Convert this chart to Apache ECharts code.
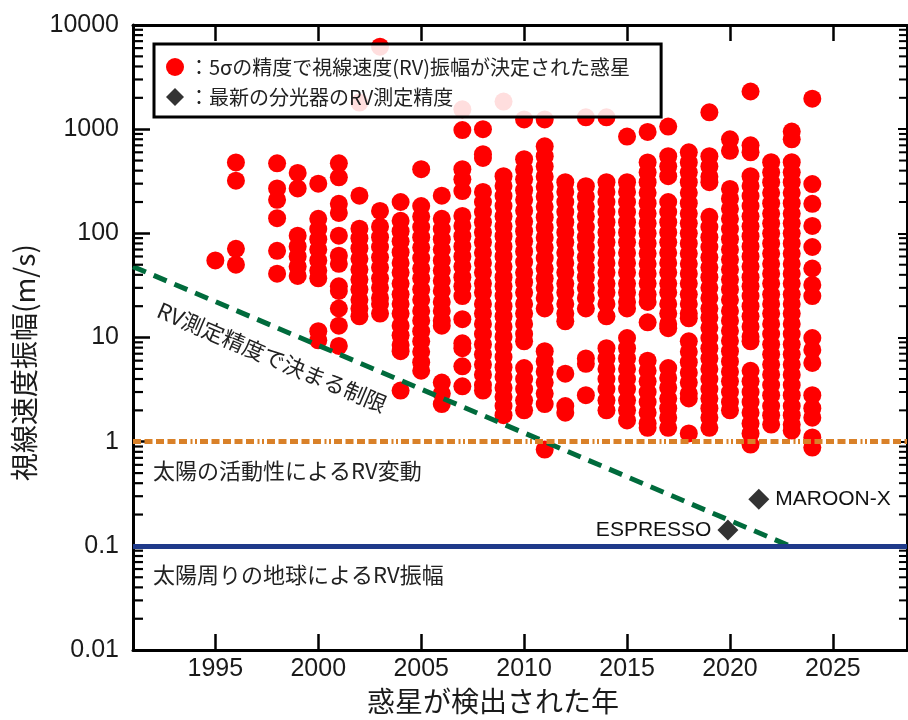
<!DOCTYPE html>
<html>
<head>
<meta charset="utf-8">
<script src="https://cdn.jsdelivr.net/npm/echarts@6/dist/echarts.min.js"></script>
<style>
html, body { margin: 0; padding: 0; background: #fff; }
#main { width: 908px; height: 720px; }
</style>
</head>
<body>
<div id="main"></div>
<script>
// 検出年ごとの視線速度振幅 (m/s)
const years = [1995, 1996, 1998, 1999, 2000, 2001, 2002, 2003, 2004, 2005, 2006, 2007, 2008, 2009,
  2010, 2011, 2012, 2013, 2014, 2015, 2016, 2017, 2018, 2019, 2020, 2021, 2022, 2023, 2024];
const amplitudes = [
  [55],
  [480, 320, 71, 50],
  [470, 270, 210, 140, 68, 41],
  [380, 270, 95, 75, 60, 48, 39],
  [300, 138, 110, 88, 70, 55, 44, 37, 11.5, 9.4],
  [470, 345, 192, 157, 95, 61, 51, 31, 28, 19, 13, 8.3],
  [1800, 230, 111, 90, 72, 57, 45, 36, 29, 23, 19, 16],
  [6200, 164, 116, 92, 74, 59, 47, 37, 30, 24, 21, 17],
  [200, 132, 105, 84, 66, 52, 42, 33, 26, 21, 17, 13, 10.5, 8.5, 7.4, 3.1],
  [413, 183, 145, 115, 92, 73, 58, 46, 37, 29, 23, 18, 14.5, 11.5, 9.2, 7.3, 5.8, 4.8],
  [230, 138, 110, 88, 70, 55, 44, 35, 28, 22, 18, 14.5, 13, 3.7, 2.9, 2.3],
  [1550, 980, 413, 330, 255, 147, 118, 94, 75, 60, 48, 38, 31, 25, 15, 8.8, 7.9, 5.3, 3.4],
  [1000, 575, 530, 250, 200, 160, 128, 102, 82, 65, 52, 42, 33, 27, 21, 17, 13.5, 10.8, 8.6, 6.9, 5.5, 4.4, 3.5, 3.1],
  [1840, 354, 285, 228, 183, 146, 117, 94, 75, 60, 48, 38, 31, 25, 20, 16, 12.7, 10.2, 8.1, 6.5, 5.2, 4.2, 3.3, 2.7, 2.2, 1.8],
  [1240, 515, 410, 330, 260, 210, 165, 130, 105, 84, 67, 53, 42, 34, 27, 21, 17, 13.5, 10.8, 9.2, 5.1, 4.0, 3.2, 2.5, 2.0],
  [1240, 685, 550, 440, 350, 280, 225, 180, 143, 114, 91, 73, 58, 46, 37, 30, 24, 19, 7.4, 5.9, 4.7, 3.7, 2.9, 2.3, 0.84],
  [310, 250, 200, 160, 128, 102, 82, 65, 52, 42, 33, 27, 21, 17, 14.3, 4.5, 2.2, 1.9],
  [1300, 284, 225, 180, 145, 115, 92, 74, 59, 47, 38, 30, 24, 19, 6.3, 5.6, 2.8],
  [1300, 310, 250, 200, 160, 128, 102, 82, 65, 52, 42, 33, 27, 21, 16, 7.9, 6.3, 5.0, 4.0, 3.2, 2.5, 2.0],
  [850, 310, 250, 200, 160, 128, 102, 82, 65, 52, 42, 33, 27, 22, 19, 9.9, 7.9, 6.3, 5.0, 4.0, 3.2, 2.5, 2.0, 1.6],
  [940, 480, 385, 310, 245, 195, 155, 125, 100, 80, 64, 51, 41, 33, 26, 22, 14, 6.0, 4.8, 3.8, 3.0, 2.4, 1.9, 1.5, 1.36],
  [1060, 550, 440, 354, 200, 160, 128, 102, 82, 65, 52, 42, 33, 27, 21, 17, 13.5, 12.3, 5.1, 4.1, 3.3, 2.6, 2.1, 1.7, 1.36],
  [600, 480, 385, 310, 245, 195, 155, 125, 100, 80, 64, 51, 41, 33, 26, 21, 17, 15.3, 9.2, 7.3, 5.8, 4.6, 3.7, 2.9, 2.6, 1.2],
  [1450, 550, 440, 350, 310, 144, 115, 92, 74, 59, 47, 38, 30, 24, 19, 15.5, 12.4, 9.9, 7.9, 6.3, 5.0, 4.0, 3.2, 2.6, 2.1, 1.7, 1.36],
  [800, 620, 267, 215, 172, 138, 110, 88, 70, 56, 45, 36, 29, 23, 18, 14.5, 11.6, 9.3, 7.4, 5.9, 4.7, 3.8, 3.0, 2.4, 2.0],
  [2300, 700, 600, 354, 285, 228, 183, 146, 117, 94, 75, 60, 48, 38, 31, 25, 20, 16, 12.7, 10.2, 9.2, 4.8, 3.8, 3.0, 2.4, 1.9, 1.5, 1.2, 0.94],
  [482, 385, 310, 245, 195, 155, 125, 100, 80, 64, 51, 41, 33, 26, 21, 17, 13.5, 10.8, 8.6, 6.9, 5.5, 4.4, 3.5, 2.8, 2.2, 1.8, 1.46],
  [950, 800, 482, 385, 310, 245, 195, 155, 125, 100, 80, 64, 51, 41, 33, 26, 21, 17, 13.5, 10.8, 8.6, 6.9, 5.5, 4.4, 3.5, 2.8, 2.2, 1.8, 1.46, 1.28],
  [1960, 297, 192, 118, 74, 46, 32, 25, 9.9, 7.6, 5.7, 2.8, 2.1, 1.7, 1.1, 0.88]
];

// 最新の分光器
const instrumentNames = ['ESPRESSO', 'MAROON-X'];
const instrumentYears = [2019.9, 2021.4];
const instrumentPrecision = [0.142, 0.28];

// RV測定精度で決まる制限 (破線)
const limitYears = [1991, 2022.9];
const limitValues = [48, 0.1];

const solarActivity = 1;   // 太陽の活動性によるRV変動
const earthSignal = 0.1;   // 太陽周りの地球によるRV振幅

const yTickLabels = ['0.01', '0.1', '1', '10', '100', '1000', '10000'];
const minorTicks = [0.02, 0.03, 0.04, 0.05, 0.06, 0.07, 0.08, 0.09,
  0.2, 0.3, 0.4, 0.5, 0.6, 0.7, 0.8, 0.9,
  2, 3, 4, 5, 6, 7, 8, 9,
  20, 30, 40, 50, 60, 70, 80, 90,
  200, 300, 400, 500, 600, 700, 800, 900,
  2000, 3000, 4000, 5000, 6000, 7000, 8000, 9000];

const xMin = 1991, xMax = 2028.6;
const planetName = '：5σの精度で視線速度(RV)振幅が決定された惑星';
const instName = '：最新の分光器のRV測定精度';
const jp = 'Noto Sans CJK JP';
const num = 'Liberation Sans';

const planetData = [];
years.forEach((yr, i) => {
  amplitudes[i].forEach(v => planetData.push([yr, v]));
});

const chart = echarts.init(document.getElementById('main'));

const option = {
  animation: false,
  grid: { left: 133, right: 1, top: 25, bottom: 66 },
  legend: {
    data: [planetName, instName],
    orient: 'vertical',
    left: 154, top: 44,
    padding: [13, 31, 10, 12],
    itemWidth: 18, itemHeight: 18, itemGap: 10,
    backgroundColor: 'rgba(255,255,255,0.87)',
    borderColor: '#000', borderWidth: 3,
    textStyle: { fontFamily: jp, fontSize: 20, color: '#222' }
  },
  xAxis: [
    {
      type: 'value', min: xMin, max: xMax, splitNumber: 8, position: 'bottom',
      axisLine: { lineStyle: { color: '#000', width: 3 } },
      axisTick: { show: true, inside: true, length: 16, lineStyle: { color: '#000', width: 2.5 } },
      axisLabel: {
        showMinLabel: false, showMaxLabel: false, fontSize: 25, color: '#1a1a1a', margin: 7, fontFamily: num,
        formatter: v => String(v)
      },
      splitLine: { show: false },
      name: '惑星が検出された年', nameLocation: 'middle', nameGap: 33,
      nameTextStyle: { fontFamily: jp, fontSize: 28, color: '#1a1a1a', padding: [0, 54, 0, 0] }
    },
    {
      type: 'value', min: xMin, max: xMax, splitNumber: 8, position: 'top',
      axisLine: { lineStyle: { color: '#000', width: 3 } },
      axisTick: { show: true, inside: true, length: 16, lineStyle: { color: '#000', width: 2.5 } },
      axisLabel: { show: false },
      splitLine: { show: false }
    }
  ],
  yAxis: [
    {
      type: 'log', logBase: 10, min: 0.01, max: 10000, position: 'left',
      axisLine: { show: true, lineStyle: { color: '#000', width: 3 } },
      axisTick: { show: true, inside: true, length: 17, lineStyle: { color: '#000', width: 2.5 } },
      axisLabel: {
        fontSize: 25, color: '#1a1a1a', margin: 14, fontFamily: num,
        formatter: v => yTickLabels[Math.round(Math.log10(v)) + 2]
      },
      splitLine: { show: false },
      name: '視線速度振幅(m/s)', nameLocation: 'middle', nameGap: 86,
      nameTextStyle: { fontFamily: jp, fontSize: 28, color: '#1a1a1a', padding: [0, 50, 0, 0] }
    },
    {
      type: 'log', logBase: 10, min: 0.01, max: 10000, position: 'right',
      axisLine: { show: true, lineStyle: { color: '#000', width: 2 } },
      axisTick: { show: true, inside: true, length: 9, lineStyle: { color: '#000', width: 2 } },
      axisLabel: { show: false },
      splitLine: { show: false }
    }
  ],
  series: [
    {
      name: planetName,
      type: 'scatter',
      symbol: 'circle',
      symbolSize: 18,
      itemStyle: { color: '#ff0000', opacity: 1 },
      emphasis: { disabled: true },
      data: planetData,
      z: 2
    },
    {
      name: instName,
      type: 'scatter',
      symbol: 'diamond',
      symbolSize: 21,
      itemStyle: { color: '#333333', opacity: 1 },
      emphasis: { disabled: true },
      label: { show: true, formatter: '{b}', fontSize: 21, color: '#111', fontFamily: num, distance: 6 },
      data: instrumentNames.map((n, i) => ({
        name: n,
        value: [instrumentYears[i], instrumentPrecision[i]],
        label: { position: i === 0 ? 'left' : 'right' }
      })),
      z: 6
    },
    {
      // 補助線
      type: 'line',
      data: [],
      silent: true,
      markLine: {
        silent: true,
        symbol: 'none',
        animation: false,
        data: [
          [
            {
              coord: [limitYears[0], limitValues[0]],
              lineStyle: { color: '#006b3c', width: 5, type: [14, 8.5] },
              label: {
                show: true, position: 'insideStartBottom', distance: [40, 18],
                formatter: 'RV測定精度で決まる制限', fontFamily: jp, fontSize: 22, color: '#222'
              }
            },
            { coord: [limitYears[1], limitValues[1]] }
          ],
          {
            yAxis: solarActivity,
            lineStyle: { color: '#d98129', width: 5, type: [8, 3.5, 8, 3.5, 8, 3.5, 8, 3.5, 8, 3.5, 2, 2.5, 2, 3] },
            label: {
              show: true, position: 'insideStartBottom', distance: [20, 18],
              formatter: '太陽の活動性によるRV変動', fontFamily: jp, fontSize: 22, color: '#222'
            }
          },
          {
            yAxis: earthSignal,
            lineStyle: { color: '#1f3a8a', width: 5, type: 'solid' },
            label: {
              show: true, position: 'insideStartBottom', distance: [20, 18],
              formatter: '太陽周りの地球によるRV振幅', fontFamily: jp, fontSize: 22, color: '#222'
            }
          }
        ]
      }
    },
    {
      // 対数軸の副目盛り (左)
      type: 'scatter',
      silent: true,
      clip: false,
      z: 7,
      symbol: 'rect',
      symbolSize: [10, 2.2],
      symbolOffset: [5, 0],
      itemStyle: { color: '#000', opacity: 1 },
      emphasis: { disabled: true },
      data: minorTicks.map(v => [xMin, v])
    },
    {
      // 対数軸の副目盛り (右)
      type: 'scatter',
      silent: true,
      clip: false,
      z: 7,
      symbol: 'rect',
      symbolSize: [8, 2],
      symbolOffset: [-4, 0],
      itemStyle: { color: '#000', opacity: 1 },
      emphasis: { disabled: true },
      data: minorTicks.map(v => [xMax, v])
    }
  ]
};

chart.setOption(option);
window.addEventListener('resize', () => chart.resize());
</script>
</body>
</html>
